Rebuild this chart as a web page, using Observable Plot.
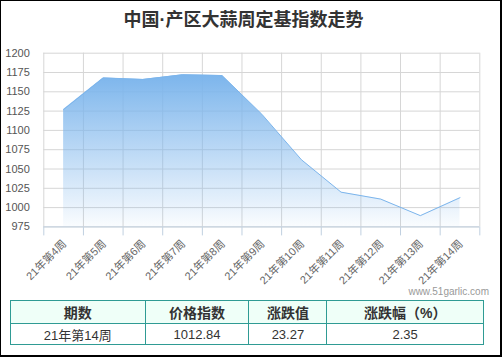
<!DOCTYPE html>
<html><head><meta charset="utf-8">
<script src="https://cdn.jsdelivr.net/npm/d3@7"></script>
<script src="https://cdn.jsdelivr.net/npm/@observablehq/plot@0.6"></script>
<style>
html,body{margin:0;padding:0;background:#fff;}
#wrap{position:relative;width:502px;height:357px;overflow:hidden;background:#fff;font-family:"Liberation Sans","Noto Sans CJK SC",sans-serif;}
#frame{position:absolute;left:0;top:0;width:502px;height:357px;box-sizing:border-box;border-style:solid;border-color:#000;border-width:1px 2px 2px 1px;pointer-events:none;}
#title{position:absolute;left:0;top:11px;width:487px;text-align:center;font-size:18px;line-height:18px;font-weight:bold;color:#333;font-family:"Liberation Sans","Noto Sans CJK SC",sans-serif;}
#chart{position:absolute;left:0;top:40px;}
#wm{position:absolute;right:13px;top:286px;font-size:10px;color:#999;font-family:"Liberation Sans",sans-serif;}
table{position:absolute;left:10px;top:300px;width:474px;border-collapse:collapse;font-family:"Liberation Sans","Noto Sans CJK SC",sans-serif;color:#333;}
td,th{border:1px solid #2f9b94;text-align:center;padding:0;}
th{height:22px;font-size:14px;font-weight:bold;background:#effff8;}
td{height:20px;font-size:13px;}
</style></head>
<body>
<div id="wrap">
<div id="title"></div>
<div id="chart"></div>
<div id="wm">www.51garlic.com</div>
<table id="tbl"></table>
<div id="frame"></div>
</div>
<script>
const title = "中国·产区大蒜周定基指数走势";
const weeks = ["21年第4周","21年第5周","21年第6周","21年第7周","21年第8周","21年第9周","21年第10周","21年第11周","21年第12周","21年第13周","21年第14周"];
const values = [1127, 1168, 1166, 1172, 1171, 1121, 1062, 1020, 1011, 989.57, 1012.84];
const yTicks = [975, 1000, 1025, 1050, 1075, 1100, 1125, 1150, 1175, 1200];
const tableHeader = ["期数","价格指数","涨跌值","涨跌幅（%）"];
const tableRow = ["21年第14周","1012.84","23.27","2.35"];
const colWidths = [135, 104, 78, 157];

document.getElementById("title").textContent = title;

const data = weeks.map((w, i) => ({i, w, v: values[i]}));
const bounds = d3.range(weeks.length + 1).map(k => k - 0.5);
const base = yTicks[0];

const svg = Plot.plot({
  width: 502,
  height: 250,
  marginTop: 12.7,
  marginBottom: 63.6,
  marginLeft: 43.3,
  marginRight: 22.7,
  style: {fontSize: "11px", fontFamily: "'Liberation Sans','Noto Sans CJK SC',sans-serif", color: "#555", background: "transparent"},
  x: {domain: [-0.5, weeks.length - 0.5], ticks: bounds, tickSize: 9, tickFormat: () => "", label: null},
  y: {domain: [yTicks[0], yTicks[yTicks.length - 1]], ticks: yTicks, tickSize: 0, tickPadding: 14, tickFormat: d => String(d), label: null},
  marks: [
    Plot.ruleY(yTicks, {stroke: "#d6d6d6", strokeWidth: 1}),
    Plot.ruleX(bounds, {stroke: "#d6d6d6", strokeWidth: 1}),
    Plot.areaY(data, {x: "i", y1: base, y2: "v", fill: "url(#areaGrad)"}),
    Plot.lineY(data, {x: "i", y: "v", stroke: "#7cb5ec", strokeWidth: 1}),
    Plot.ruleY([base], {stroke: "#c0d0e0", strokeWidth: 1}),
    Plot.text(data, {x: "i", y: base, text: "w", rotate: -45, textAnchor: "end", dx: 1, dy: 15, fill: "#666", fontSize: 11})
  ]
});

const ns = "http://www.w3.org/2000/svg";
const defs = document.createElementNS(ns, "defs");
defs.innerHTML = '<linearGradient id="areaGrad" x1="0" y1="0" x2="0" y2="1">' +
  '<stop offset="0" stop-color="#7cb5ec" stop-opacity="1"/>' +
  '<stop offset="1" stop-color="#7cb5ec" stop-opacity="0.04"/></linearGradient>';
svg.insertBefore(defs, svg.firstChild);
svg.querySelectorAll('[aria-label^="x-axis"]').forEach(g => { g.style.color = "#c0d0e0"; });
document.getElementById("chart").appendChild(svg);

const tbl = document.getElementById("tbl");
const cg = document.createElement("colgroup");
colWidths.forEach(w => { const c = document.createElement("col"); c.style.width = w + "px"; cg.appendChild(c); });
tbl.appendChild(cg);
const tr1 = document.createElement("tr");
tableHeader.forEach(h => { const th = document.createElement("th"); th.textContent = h; tr1.appendChild(th); });
const tr2 = document.createElement("tr");
tableRow.forEach(h => { const td = document.createElement("td"); td.textContent = h; tr2.appendChild(td); });
tbl.appendChild(tr1); tbl.appendChild(tr2);
</script>
</body></html>
